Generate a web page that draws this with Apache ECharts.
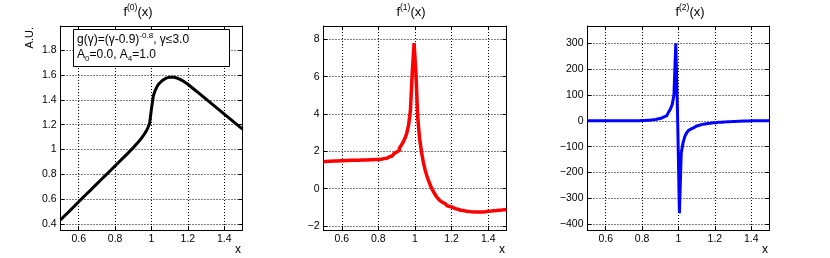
<!DOCTYPE html>
<html>
<head>
<meta charset="utf-8">
<script src="https://cdn.jsdelivr.net/npm/echarts@6/dist/echarts.min.js"></script>
<style>
html,body{margin:0;padding:0;background:#fff;}
#c{width:830px;height:258px;}
</style>
</head>
<body>
<div id="c"></div>
<script>
// ---- data (bin centres and values) ----
const xs = [0.50,0.51,0.52,0.53,0.54,0.55,0.56,0.57,0.58,0.59,
  0.60,0.61,0.62,0.63,0.64,0.65,0.66,0.67,0.68,0.69,
  0.70,0.71,0.72,0.73,0.74,0.75,0.76,0.77,0.78,0.79,
  0.80,0.81,0.82,0.83,0.84,0.85,0.86,0.87,0.88,0.89,
  0.90,0.91,0.92,0.93,0.94,0.95,0.96,0.97,0.98,0.99,
  1.00,1.01,1.02,1.03,1.04,1.05,1.06,1.07,1.08,1.09,
  1.10,1.11,1.12,1.13,1.14,1.15,1.16,1.17,1.18,1.19,
  1.20,1.21,1.22,1.23,1.24,1.25,1.26,1.27,1.28,1.29,
  1.30,1.31,1.32,1.33,1.34,1.35,1.36,1.37,1.38,1.39,
  1.40,1.41,1.42,1.43,1.44,1.45,1.46,1.47,1.48,1.49,1.50];

const f0 = [0.435,0.449,0.464,0.478,0.493,0.507,0.522,0.536,0.551,0.566,
  0.581,0.595,0.610,0.624,0.639,0.653,0.667,0.682,0.696,0.711,
  0.725,0.739,0.754,0.768,0.783,0.797,0.811,0.826,0.840,0.855,
  0.869,0.884,0.898,0.913,0.927,0.942,0.956,0.971,0.986,1.001,
  1.016,1.032,1.048,1.065,1.083,1.102,1.123,1.146,1.174,1.215,
  1.330,1.430,1.475,1.505,1.527,1.543,1.556,1.566,1.574,1.579,
  1.582,1.583,1.582,1.579,1.575,1.569,1.562,1.554,1.545,1.535,
  1.525,1.513,1.501,1.489,1.477,1.465,1.453,1.441,1.429,1.417,
  1.405,1.393,1.381,1.369,1.357,1.345,1.333,1.321,1.309,1.297,
  1.285,1.273,1.261,1.249,1.237,1.225,1.213,1.201,1.189,1.177,1.165];

const f1 = [1.45,1.46,1.46,1.47,1.47,1.48,1.48,1.49,1.49,1.50,
  1.50,1.51,1.51,1.51,1.52,1.52,1.52,1.53,1.53,1.53,
  1.53,1.54,1.54,1.54,1.54,1.55,1.55,1.55,1.56,1.56,
  1.57,1.58,1.59,1.61,1.63,1.66,1.70,1.75,1.81,1.88,
  1.96,2.06,2.18,2.32,2.49,2.70,2.97,3.40,4.20,6.20,
  7.80,6.20,3.80,2.70,2.00,1.45,1.02,0.68,0.40,0.16,
  -0.05,-0.23,-0.39,-0.52,-0.63,-0.72,-0.80,-0.86,-0.91,-0.95,
  -0.99,-1.03,-1.07,-1.10,-1.13,-1.15,-1.17,-1.19,-1.21,-1.22,
  -1.23,-1.24,-1.25,-1.25,-1.25,-1.25,-1.24,-1.24,-1.23,-1.22,
  -1.21,-1.20,-1.19,-1.18,-1.17,-1.16,-1.15,-1.14,-1.13,-1.12,-1.11];

const f2 = [0.3,0.3,0.3,0.3,0.3,0.3,0.3,0.3,0.3,0.3,
  0.3,0.3,0.3,0.3,0.3,0.3,0.3,0.3,0.3,0.3,
  0.4,0.4,0.4,0.5,0.5,0.6,0.6,0.7,0.8,0.9,
  1.1,1.4,1.8,2.3,2.9,3.6,4.5,5.5,6.8,8.3,
  10.2,12.5,15.5,19.5,25,33,45,62,100,300,
  20,-357,-125,-85,-60,-46,-37,-31,-26,-22.5,
  -19.5,-17,-15,-13.5,-12,-11,-10,-9,-8.2,-7.5,
  -6.8,-6.2,-5.6,-5.1,-4.6,-4.1,-3.7,-3.3,-2.9,-2.6,
  -2.3,-2.0,-1.7,-1.4,-1.2,-0.9,-0.7,-0.5,-0.3,-0.1,
  0.1,0.2,0.4,0.5,0.6,0.7,0.8,0.9,1.0,1.0,1.1];

const xTicks = [0.6, 0.8, 1.0, 1.2, 1.4];
const yTicks0 = [0.4, 0.6, 0.8, 1.0, 1.2, 1.4, 1.6, 1.8];
const yTicks1 = [-2, 0, 2, 4, 6, 8];
const yTicks2 = [-400, -300, -200, -100, 0, 100, 200, 300];

const titles = [['f', '(0)', '(x)'], ['f', '(1)', '(x)'], ['f', '(2)', '(x)']];
const boxLine1 = ['g(γ)=(γ-0.9)', '-0.8', ', γ≤3.0'];
const boxLine2 = ['A', '0', '=0.0, A', '4', '=1.0'];
const yName = 'A.U.';
const xName = 'x';

// ---- styling / layout ----
const FF = '"Liberation Sans", Arial, Helvetica, sans-serif';
const panels = [
  {left: 60.5, width: 182, ymin: 0.354, ymax: 1.993, yt: yTicks0, data: f0, color: '#000000', lw: 3, tx: 138, step: false},
  {left: 323.5, width: 183, ymin: -2.21, ymax: 8.71, yt: yTicks1, data: f1, color: '#ff0000', lw: 3.5, tx: 411, step: 'middle'},
  {left: 587.5, width: 182, ymin: -422, ymax: 367, yt: yTicks2, data: f2, color: '#0000ff', lw: 3, tx: 690, step: 'middle'}
];
const TOP = 26, H = 204;

function fmt(v) {
  const r = Math.round(v * 1000) / 1000;
  return (r < 0 ? '\u2212' : '') + String(Math.abs(r));
}
const lineBlack = {color: '#000', width: 1};
const dotted = {color: '#000', width: 1, type: [1, 2]};

const grid = [], xAxis = [], yAxis = [], series = [], graphic = [];
panels.forEach((p, i) => {
  grid.push({left: p.left, top: TOP, width: p.width, height: H, containLabel: false, outerBoundsMode: 'none'});
});
panels.forEach((p, i) => {
  xAxis.push({
    gridIndex: i, type: 'value', min: 0.5, max: 1.5, position: 'bottom',
    axisLine: {show: true, onZero: false, lineStyle: lineBlack},
    axisTick: {show: true, inside: true, length: 4, customValues: xTicks, lineStyle: lineBlack},
    axisLabel: {show: true, customValues: xTicks, formatter: fmt, fontSize: 10.5, fontFamily: FF, color: '#000', margin: 4},
    splitLine: {show: true, lineStyle: dotted}
  });
});
panels.forEach((p, i) => {
  xAxis.push({
    gridIndex: i, type: 'value', min: 0.5, max: 1.5, position: 'top',
    axisLine: {show: true, onZero: false, lineStyle: lineBlack},
    axisTick: {show: true, inside: true, length: 4, customValues: xTicks, lineStyle: lineBlack},
    axisLabel: {show: false}, splitLine: {show: false}
  });
});
panels.forEach((p, i) => {
  yAxis.push({
    gridIndex: i, type: 'value', min: p.ymin, max: p.ymax, position: 'left',
    axisLine: {show: true, onZero: false, lineStyle: lineBlack},
    axisTick: {show: true, inside: true, length: 4, customValues: p.yt, lineStyle: lineBlack},
    axisLabel: {show: true, customValues: p.yt, formatter: fmt, fontSize: 10.5, fontFamily: FF, color: '#000', margin: 4},
    splitLine: {show: true, lineStyle: dotted}
  });
});
panels.forEach((p, i) => {
  yAxis.push({
    gridIndex: i, type: 'value', min: p.ymin, max: p.ymax, position: 'right',
    axisLine: {show: true, onZero: false, lineStyle: lineBlack},
    axisTick: {show: true, inside: true, length: 4, customValues: p.yt, lineStyle: lineBlack},
    axisLabel: {show: false}, splitLine: {show: false}
  });
});
panels.forEach((p, i) => {
  series.push({
    type: 'line', xAxisIndex: i, yAxisIndex: i, step: p.step, showSymbol: false, symbol: 'none',
    data: xs.map((x, k) => [x, p.data[k]]),
    lineStyle: {color: p.color, width: p.lw, join: 'miter'}, itemStyle: {color: p.color},
    clip: true, z: 5, silent: true
  });
  // panel title
  const t = titles[i];
  graphic.push({
    type: 'text', x: p.tx, y: 12, z: 100,
    style: {
      text: '{a|' + t[0] + '}{s|' + t[1] + '}{a|' + t[2] + '}',
      align: 'center', verticalAlign: 'middle',
      rich: {
        a: {fontSize: 13, fontFamily: FF, fill: '#000', lineHeight: 18},
        s: {fontSize: 8.5, fontFamily: FF, fill: '#000', verticalAlign: 'top'}
      }
    }
  });
  // x axis name
  graphic.push({
    type: 'text', x: p.left + p.width - 1.5, y: 249.5, z: 100,
    style: {text: xName, align: 'right', verticalAlign: 'middle', fontSize: 12, fontFamily: FF, fill: '#000'}
  });
});

// y axis name of first panel
graphic.push({
  type: 'text', x: 30, y: 27, rotation: Math.PI / 2, z: 100,
  style: {text: yName, align: 'right', verticalAlign: 'middle', fontSize: 11, fontFamily: FF, fill: '#000'}
});
// info box
graphic.push({
  type: 'rect', z: 100,
  shape: {x: 73.5, y: 29.5, width: 156, height: 37},
  style: {fill: '#fff', stroke: '#000', lineWidth: 1}
});
graphic.push({
  type: 'text', x: 77, y: 40, z: 101,
  style: {
    text: '{a|' + boxLine1[0] + '}{s|' + boxLine1[1] + '}{a|' + boxLine1[2] + '}',
    align: 'left', verticalAlign: 'middle',
    rich: {
      a: {fontSize: 12, fontFamily: FF, fill: '#000', lineHeight: 16},
      s: {fontSize: 8, fontFamily: FF, fill: '#000', verticalAlign: 'top'}
    }
  }
});
graphic.push({
  type: 'text', x: 77, y: 55, z: 101,
  style: {
    text: '{a|' + boxLine2[0] + '}{b|' + boxLine2[1] + '}{a|' + boxLine2[2] + '}{b|' + boxLine2[3] + '}{a|' + boxLine2[4] + '}',
    align: 'left', verticalAlign: 'middle',
    rich: {
      a: {fontSize: 12, fontFamily: FF, fill: '#000', lineHeight: 16},
      b: {fontSize: 8, fontFamily: FF, fill: '#000', verticalAlign: 'bottom'}
    }
  }
});

const chart = echarts.init(document.getElementById('c'), null, {renderer: 'canvas'});
chart.setOption({
  animation: false,
  backgroundColor: '#fff',
  grid, xAxis, yAxis, series, graphic
});
</script>
</body>
</html>
